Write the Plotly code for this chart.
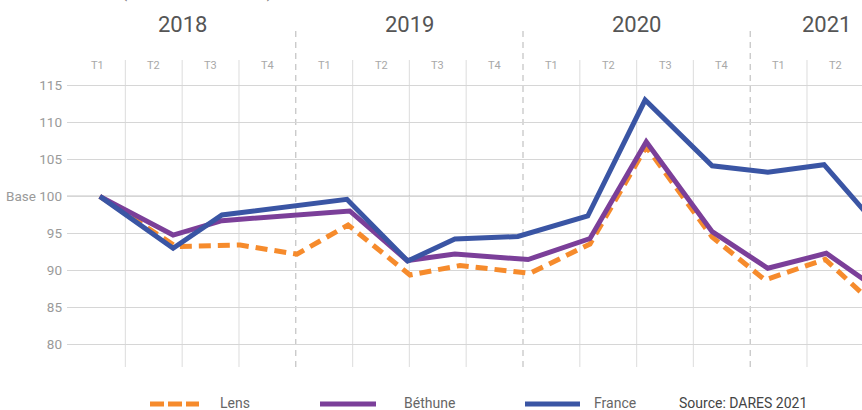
import plotly.graph_objects as go

W, H = 862, 410

# ---- data (x in quarter index units: 0 = 2018 T1) ----
quarter_labels = ["T1", "T2", "T3", "T4", "T1", "T2", "T3", "T4",
                  "T1", "T2", "T3", "T4", "T1", "T2"]
years = ["2018", "2019", "2020", "2021"]
year_centers = [1.5, 5.5, 9.5, 12.85]
y_ticks = [80, 85, 90, 95, 100, 105, 110, 115]
y_ticktext = ["80", "85", "90", "95", "Base 100", "105", "110", "115"]

france_x = [0.05, 1.34, 2.20, 4.40, 5.47, 6.30, 7.41, 8.64, 9.65, 10.83, 11.81, 12.80, 13.8]
france_y = [100.0, 92.99, 97.49, 99.61, 91.27, 94.24, 94.58, 97.35, 113.02, 104.13, 103.27, 104.28, 95.47]

bethune_x = [0.05, 1.34, 2.20, 4.45, 5.46, 6.30, 7.59, 8.68, 9.67, 10.83, 11.81, 12.84, 13.8]
bethune_y = [100.0, 94.78, 96.72, 98.03, 91.34, 92.22, 91.47, 94.31, 107.38, 95.23, 90.29, 92.31, 87.18]

lens_x = [0.05, 1.39, 2.52, 3.52, 4.42, 5.51, 6.39, 7.62, 8.68, 9.67, 10.83, 11.76, 12.82, 13.8]
lens_y = [100.0, 93.23, 93.43, 92.19, 96.14, 89.38, 90.66, 89.61, 93.57, 106.71, 94.51, 88.71, 91.5, 84.57]

C_FRANCE = "#3a55a4"
C_BETHUNE = "#7b3f99"
C_LENS = "#f68b2c"
FONT = "Roboto, sans-serif"


def py(p):
    return 1 - p / H


def px(p):
    return p / W


fig = go.Figure()
fig.add_trace(go.Scatter(x=lens_x, y=lens_y, mode="lines", name="Lens",
                         line=dict(color=C_LENS, width=5, dash="12px,7px"), showlegend=False))
fig.add_trace(go.Scatter(x=bethune_x, y=bethune_y, mode="lines", name="Béthune",
                         line=dict(color=C_BETHUNE, width=5), showlegend=False))
fig.add_trace(go.Scatter(x=france_x, y=france_y, mode="lines", name="France",
                         line=dict(color=C_FRANCE, width=5), showlegend=False))

shapes = []
# quarter separators
for i in range(len(quarter_labels) - 1):
    b = i + 0.5
    if i % 4 == 3:
        shapes.append(dict(type="line", xref="x", yref="paper", x0=b, x1=b,
                           y0=py(367), y1=py(31), layer="below",
                           line=dict(color="#b5b5b5", width=1, dash="6px,5px")))
    else:
        shapes.append(dict(type="line", xref="x", yref="paper", x0=b, x1=b,
                           y0=py(367), y1=py(60), layer="below",
                           line=dict(color="#e2e2e2", width=1.2)))
# base 100 line
shapes.append(dict(type="line", xref="paper", yref="y", x0=px(67), x1=1, y0=100, y1=100,
                   layer="below", line=dict(color="#8a8a8a", width=1.2)))

annotations = []
for yr, c in zip(years, year_centers):
    annotations.append(dict(x=c, y=py(24), xref="x", yref="paper", text=yr, showarrow=False,
                            font=dict(family=FONT, size=22, color="#555555"),
                            xanchor="center", yanchor="middle"))
for i, q in enumerate(quarter_labels):
    annotations.append(dict(x=i, y=py(65), xref="x", yref="paper", text=q, showarrow=False,
                            font=dict(family=FONT, size=11, color="#a8a8a8"),
                            xanchor="center", yanchor="middle"))
# clipped subtitle at the very top
annotations.append(dict(x=px(197), y=py(4), xref="paper", yref="paper",
                        text="(base 100 au T1 2018)", showarrow=False,
                        font=dict(family=FONT, size=15, color="#777777"),
                        xanchor="center", yanchor="bottom"))

# manual legend
LY = 403
shapes.append(dict(type="line", xref="paper", yref="paper", x0=px(150), x1=px(199), y0=py(LY + 1), y1=py(LY + 1),
                   line=dict(color=C_LENS, width=5, dash="14px,4px")))
shapes.append(dict(type="line", xref="paper", yref="paper", x0=px(320), x1=px(376), y0=py(LY + 1), y1=py(LY + 1),
                   line=dict(color=C_BETHUNE, width=5)))
shapes.append(dict(type="line", xref="paper", yref="paper", x0=px(525), x1=px(580), y0=py(LY + 1), y1=py(LY + 1),
                   line=dict(color=C_FRANCE, width=5)))
for txt, x0, col in [("Lens", 218, "#666666"), ("Béthune", 402, "#666666"),
                     ("France", 592, "#666666"), ("Source: DARES 2021", 677, "#444444")]:
    annotations.append(dict(x=px(x0), y=py(LY), xref="paper", yref="paper", text=txt, showarrow=False,
                            font=dict(family=FONT, size=14, color=col),
                            xanchor="left", yanchor="middle"))

# axis ranges derived from pixel layout
x_left, x_right = 67, 862
q_per_px = 1 / 56.8
x_range = [0 - (97 - x_left) * q_per_px, 0 + (x_right - 97) * q_per_px]
y_px_per_unit = 7.402
y_range = [97.5 - (H - 214.9) / y_px_per_unit, 97.5 + 214.9 / y_px_per_unit]

fig.update_layout(
    width=W, height=H,
    margin=dict(l=0, r=0, t=0, b=0),
    paper_bgcolor="white", plot_bgcolor="white",
    font=dict(family=FONT),
    xaxis=dict(domain=[px(x_left), 1], range=x_range, showgrid=False, zeroline=False,
               showticklabels=False, showline=False, fixedrange=True),
    yaxis=dict(domain=[0, 1], range=y_range, tickvals=y_ticks, ticktext=y_ticktext,
               showgrid=True, gridcolor="#d6d6d6", gridwidth=1, zeroline=False, showline=False,
               ticks="", tickfont=dict(family=FONT, size=13.5, color="#9a9a9a"),
               automargin=False, ticklabelstandoff=4, fixedrange=True),
    shapes=shapes, annotations=annotations,
)

fig.write_html("out.html", config={"displayModeBar": False},
               post_script="document.body.style.margin='0';document.body.style.overflow='hidden';")
